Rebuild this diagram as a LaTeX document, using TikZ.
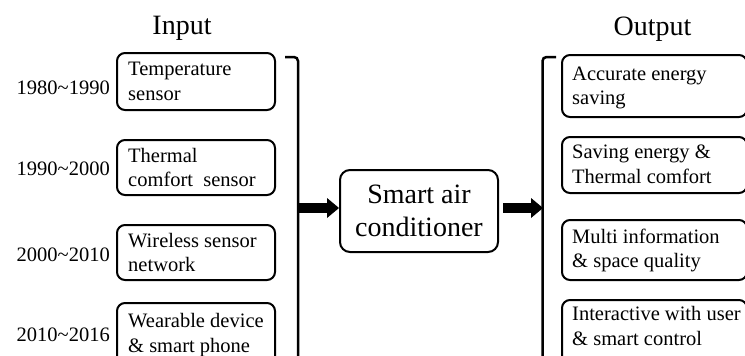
\documentclass[tikz,border=0pt]{standalone}
\usepackage{fontspec}
\setmainfont{Liberation Serif}
\usetikzlibrary{arrows.meta}
\begin{document}
\begin{tikzpicture}[x=1pt,y=-1pt,
  inbox/.style={draw, line width=2pt, rounded corners=8pt, minimum width=158pt, inner sep=0pt},
  outbox/.style={draw, line width=2pt, rounded corners=8pt, minimum width=185pt, inner sep=0pt},
  boxtext/.style={font=\fontsize{20.5}{24.5}\selectfont, align=left, inner sep=0pt, anchor=west},
  yearlabel/.style={font=\fontsize{20.5}{24.5}\selectfont, inner sep=0pt, anchor=east},
  titletext/.style={font=\fontsize{28}{33.5}\selectfont, inner sep=0pt},
  bracketline/.style={line width=2.5pt, rounded corners=4pt},
  bigarrow/.style={line width=10pt, -{Triangle[length=12pt,width=20pt,line width=0pt]}}]
\useasboundingbox (0,0) rectangle (745,356);

% titles
\node[titletext] (tin) at (182,28.8) {Input};
\node[titletext] (tout) at (652.5,28.8) {Output};

% input boxes
\node[inbox, minimum height=57pt] (i1) at (196,81.5) {};
\node[inbox, minimum height=55pt] (i2) at (196,167.5) {};
\node[inbox, minimum height=55pt] (i3) at (196,252.5) {};
\node[inbox, minimum height=64pt] (i4) at (196,335) {};
\node[boxtext] (ti1) at (128,81.5) {Temperature\\sensor};
\node[boxtext] (ti2) at (128,167.5) {Thermal\\comfort\ \ sensor};
\node[boxtext] (ti3) at (128,252.5) {Wireless sensor\\network};
\node[boxtext] (ti4) at (128,335) {Wearable device\\\& smart phone};

% year labels
\node[yearlabel] (y1) at (110,88) {1980\textasciitilde1990};
\node[yearlabel] (y2) at (110,168.5) {1990\textasciitilde2000};
\node[yearlabel] (y3) at (110,254.5) {2000\textasciitilde2010};
\node[yearlabel] (y4) at (110,335) {2010\textasciitilde2016};

% output boxes
\node[outbox, minimum height=62pt] (o1) at (654.5,86) {};
\node[outbox, minimum height=56pt] (o2) at (654.5,165) {};
\node[outbox, minimum height=60pt] (o3) at (654.5,250) {};
\node[outbox, minimum height=64pt] (o4) at (654.5,332) {};
\node[boxtext] (to1) at (572,88) {Accurate energy\\saving};
\node[boxtext] (to2) at (572,164.5) {Saving energy \&\\Thermal comfort};
\node[boxtext] (to3) at (572,250.5) {Multi information\\\& space quality};
\node[boxtext] (to4) at (572,326) {Interactive with user\\\& smart control};

% central box
\node[draw, line width=2pt, rounded corners=10pt, minimum width=158pt, minimum height=82pt,
      align=center, font=\fontsize{28}{33.5}\selectfont, inner sep=0pt] (cac) at (419,211)
      {Smart air\\conditioner};

% brackets
\draw[bracketline] (285,57) -- (298,57) -- (298,362);
\draw[bracketline] (556,57) -- (542.5,57) -- (542.5,362);
\coordinate (inarr) at (298,208);
\coordinate (outarr) at (543,208);

% arrows
\draw[bigarrow] (inarr) -- (inarr -| cac.west);
\draw[bigarrow, shorten <=4pt] (cac.east |- outarr) -- (outarr);
\end{tikzpicture}
\end{document}
